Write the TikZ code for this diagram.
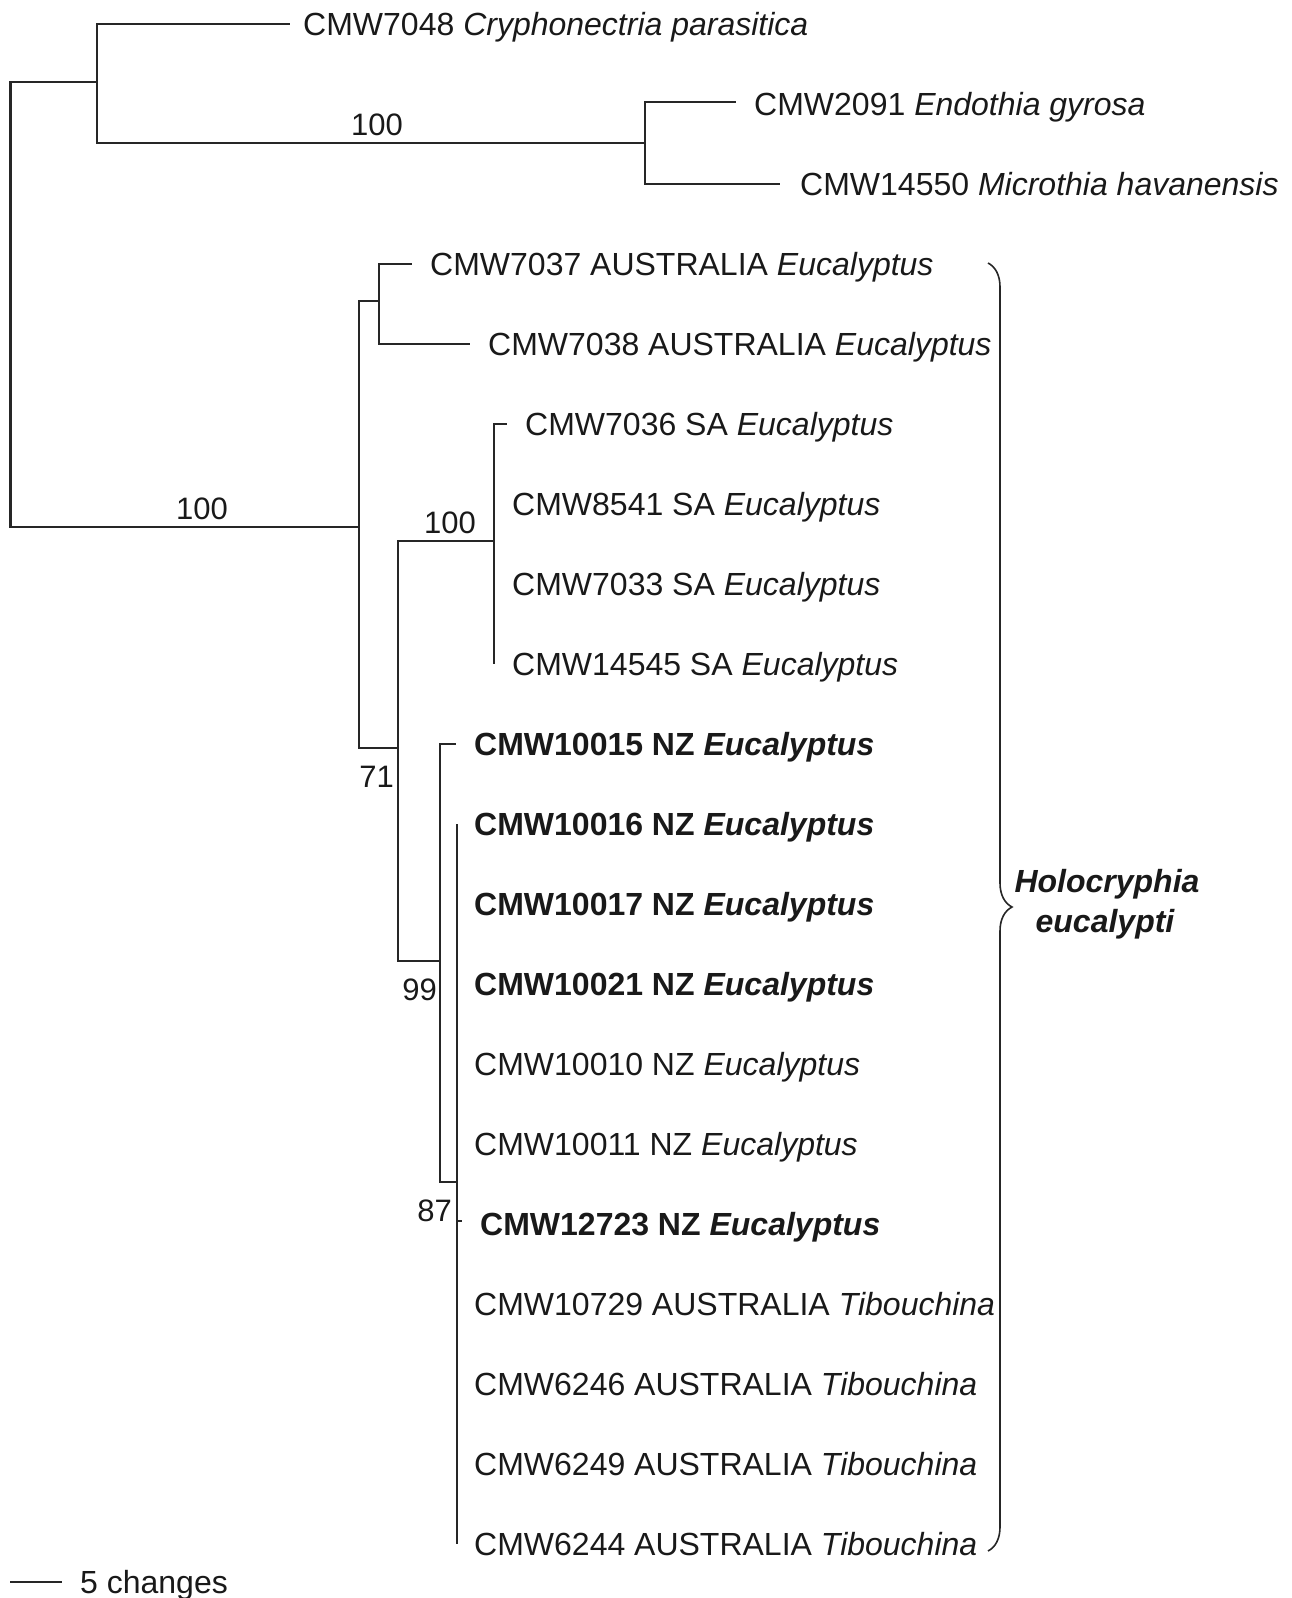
\documentclass[tikz,border=0pt]{standalone}
\usepackage{fontspec}
\setmainfont{Liberation Sans}
\usetikzlibrary{decorations.pathreplacing}
\begin{document}
\begin{tikzpicture}[x=1pt,y=-1pt,
  branch/.style={draw=black!85, line width=2.2pt},
  leaf/.style={inner sep=0pt, text=black!90, font=\fontsize{32}{38}\selectfont, anchor=base west},
  leafbold/.style={leaf, font=\fontsize{32}{38}\selectfont\bfseries},
  support/.style={inner sep=0pt, text=black!90, font=\fontsize{31}{36}\selectfont},
  cladename/.style={inner sep=0pt, text=black!90, font=\fontsize{32}{38}\selectfont\bfseries\itshape, anchor=base},
  bracestyle/.style={draw=black!85, line width=1.6pt, decorate, decoration={brace, amplitude=24pt}}
]
\useasboundingbox (0,0) rectangle (1291,1598);

% internal nodes
\coordinate (R) at (10.5,300);
\coordinate (O1) at (97,82);
\coordinate (E) at (645,143);
\coordinate (I) at (359,527);
\coordinate (A) at (379,301);
\coordinate (J) at (398,748);
\coordinate (SA) at (494,541);
\coordinate (K) at (440,961);
\coordinate (L) at (457,1182);

% tips
\coordinate (t7048) at (290,24);
\coordinate (t2091) at (736,102);
\coordinate (t14550) at (780,184);
\coordinate (t7037) at (412,264);
\coordinate (t7038) at (470,344);
\coordinate (t7036) at (507,424);
\coordinate (t14545) at (494,664);
\coordinate (t10015) at (456,744);
\coordinate (t10016) at (457,824);
\coordinate (t12723) at (462,1221);
\coordinate (t6244) at (457,1544);

% branches
\draw[branch] (R) |- (O1);
\draw[branch] (R) |- (I);
\draw[branch] (O1) |- (t7048);
\draw[branch] (O1) |- (E);
\draw[branch] (E) |- (t2091);
\draw[branch] (E) |- (t14550);
\draw[branch] (I) |- (A);
\draw[branch] (I) |- (J);
\draw[branch] (A) |- (t7037);
\draw[branch] (A) |- (t7038);
\draw[branch] (J) |- (SA);
\draw[branch] (J) |- (K);
\draw[branch] (SA) |- (t7036);
\draw[branch] (SA) |- (t14545);
\draw[branch] (K) |- (t10015);
\draw[branch] (K) |- (L);
\draw[branch] (L) |- (t10016);
\draw[branch] (L) |- (t6244);
\draw[branch, line width=1.6pt] (L) |- (t12723);

% support values
\node[support, anchor=base] (s1) at (377,135) {100};
\node[support, anchor=base] (s2) at (202,519) {100};
\node[support, anchor=base] (s3) at (450,533) {100};
\node[support, anchor=base east] (s4) at (394,787) {71};
\node[support, anchor=base east] (s5) at (437,1000) {99};
\node[support, anchor=base east] (s6) at (452,1221) {87};

% leaf labels
\node[leaf] (n7048) at (303,35.5) {CMW7048 \textit{Cryphonectria parasitica}};
\node[leaf] (n2091) at (754,115) {CMW2091 \textit{Endothia gyrosa}};
\node[leaf] (n14550) at (800,195.5) {CMW14550 \textit{Microthia havanensis}};
\node[leaf] (n7037) at (430,275.5) {CMW7037 AUSTRALIA \textit{Eucalyptus}};
\node[leaf] (n7038) at (488,355.5) {CMW7038 AUSTRALIA \textit{Eucalyptus}};
\node[leaf] (n7036) at (525,435.5) {CMW7036 SA \textit{Eucalyptus}};
\node[leaf] (n8541) at (512,515.5) {CMW8541 SA \textit{Eucalyptus}};
\node[leaf] (n7033) at (512,595.5) {CMW7033 SA \textit{Eucalyptus}};
\node[leaf] (n14545) at (512,675.5) {CMW14545 SA \textit{Eucalyptus}};
\node[leafbold] (n10015) at (474,755.5) {CMW10015 NZ \textit{Eucalyptus}};
\node[leafbold] (n10016) at (474,835.5) {CMW10016 NZ \textit{Eucalyptus}};
\node[leafbold] (n10017) at (474,915.5) {CMW10017 NZ \textit{Eucalyptus}};
\node[leafbold] (n10021) at (474,995.5) {CMW10021 NZ \textit{Eucalyptus}};
\node[leaf] (n10010) at (474,1075.5) {CMW10010 NZ \textit{Eucalyptus}};
\node[leaf] (n10011) at (474,1155.5) {CMW10011 NZ \textit{Eucalyptus}};
\node[leafbold] (n12723) at (480,1235.5) {CMW12723 NZ \textit{Eucalyptus}};
\node[leaf] (n10729) at (474,1315.5) {CMW10729 AUSTRALIA \textit{Tibouchina}};
\node[leaf] (n6246) at (474,1395.5) {CMW6246 AUSTRALIA \textit{Tibouchina}};
\node[leaf] (n6249) at (474,1475.5) {CMW6249 AUSTRALIA \textit{Tibouchina}};
\node[leaf] (n6244) at (474,1555.5) {CMW6244 AUSTRALIA \textit{Tibouchina}};

% brace and clade name
\coordinate (bt) at (988,263);
\coordinate (bb) at (988,1551);
\draw[bracestyle] (bt) -- (bb);
\node[cladename] (holo1) at (1107,892) {Holocryphia};
\node[cladename] (holo2) at (1105,932) {eucalypti};

% scale bar
\coordinate (sb1) at (10,1582);
\coordinate (sb2) at (62,1582);
\draw[branch] (sb1) -- (sb2);
\node[leaf] (sbl) at (80,1593) {5 changes};
\end{tikzpicture}
\end{document}
